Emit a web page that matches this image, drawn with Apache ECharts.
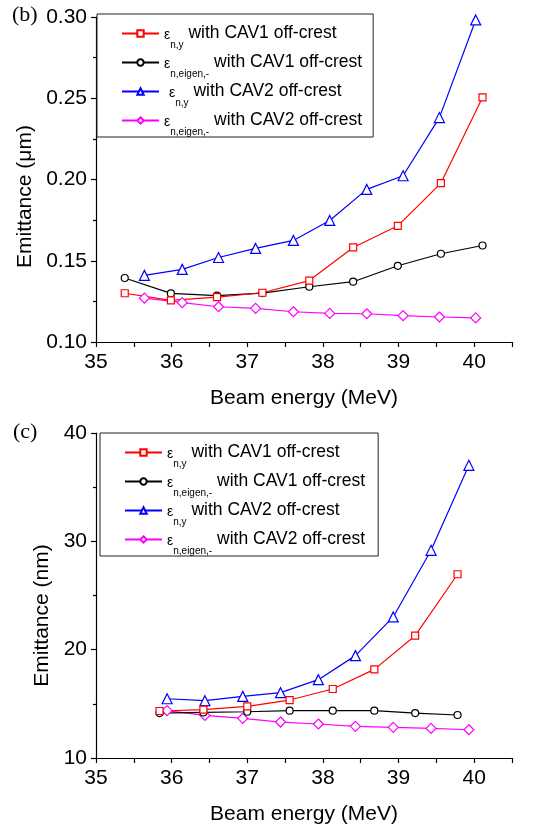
<!DOCTYPE html>
<html>
<head>
<meta charset="utf-8">
<script src="https://cdn.jsdelivr.net/npm/echarts@6/dist/echarts.min.js"></script>
<style>
  html, body { margin: 0; padding: 0; background: #fff; }
  #chart { width: 549px; height: 834px; }
</style>
</head>
<body>
<div id="chart"></div>
<script>
// ---- Panel (b): emittance in µm versus beam energy ----
const energyB1 = [35.38, 35.99, 36.60, 37.20, 37.82, 38.40, 38.99, 39.56, 40.11];
const epsYB1   = [0.130, 0.1256, 0.1276, 0.1303, 0.1378, 0.1582, 0.1715, 0.1978, 0.2505];
const epsEigB1 = [0.1394, 0.1299, 0.1285, 0.1301, 0.1340, 0.1371, 0.1469, 0.1543, 0.1594];
const energyB2 = [35.64, 36.14, 36.62, 37.11, 37.61, 38.09, 38.58, 39.06, 39.54, 40.02];
const epsYB2   = [0.1410, 0.1447, 0.1520, 0.1576, 0.1625, 0.1748, 0.1939, 0.2023, 0.2381, 0.2982];
const epsEigB2 = [0.1270, 0.1242, 0.1217, 0.1207, 0.1186, 0.1176, 0.1174, 0.1162, 0.1154, 0.1148];

// ---- Panel (c): emittance in nm versus beam energy ----
const energyC1 = [35.84, 36.42, 37.00, 37.56, 38.13, 38.68, 39.22, 39.78];
const epsYC1   = [14.34, 14.46, 14.77, 15.35, 16.37, 18.18, 21.29, 26.96];
const epsEigC1 = [14.15, 14.21, 14.27, 14.37, 14.37, 14.37, 14.15, 13.97];
const energyC2 = [35.94, 36.44, 36.94, 37.44, 37.94, 38.43, 38.93, 39.43, 39.93];
const epsYC2   = [15.47, 15.29, 15.69, 16.03, 17.23, 19.45, 23.02, 29.17, 37.02];
const epsEigC2 = [14.37, 13.93, 13.66, 13.32, 13.14, 12.92, 12.83, 12.73, 12.61];

// axis ranges and tick steps
const xRange = [35, 40.5], xStep = 0.5;
const yRangeB = [0.10, 0.30], yStepB = 0.05;
const yRangeC = [10, 40], yStepC = 10;

// legend texts: subscript and trailing description
const legendText = {
  b1: ['n,y', ' with CAV1 off-crest'],
  b2: ['n,eigen,-', ' with CAV1 off-crest'],
  b3: ['n,y', ' with CAV2 off-crest'],
  b4: ['n,eigen,-', ' with CAV2 off-crest'],
  c1: ['n,y', ' with CAV1 off-crest'],
  c2: ['n,eigen,-', ' with CAV1 off-crest'],
  c3: ['n,y', ' with CAV2 off-crest'],
  c4: ['n,eigen,-', ' with CAV2 off-crest']
};

const FONT = 'Liberation Sans';
const RED = '#ff0000', BLACK = '#000000', BLUE = '#0000ff', MAGENTA = '#ff00ff';

function pairs(xs, ys) { return xs.map((x, i) => [x, ys[i]]); }

function makeSeries(name, idx, xs, ys, color, symbol, size) {
  return {
    name: name,
    type: 'line',
    xAxisIndex: idx,
    yAxisIndex: idx,
    data: pairs(xs, ys),
    symbol: symbol,
    symbolSize: size,
    color: color,
    lineStyle: { color: color, width: 1.2 },
    itemStyle: { color: '#ffffff', borderColor: color, borderWidth: 1.2 },
    emphasis: { disabled: true },
    animation: false
  };
}

function xAxisFor(idx) {
  return {
    type: 'value', gridIndex: idx,
    min: xRange[0], max: xRange[1], interval: xStep,
    name: 'Beam energy (MeV)', nameLocation: 'middle', nameGap: 46,
    nameTextStyle: { fontFamily: FONT, fontSize: 21, color: '#000' },
    axisLine: { lineStyle: { color: '#000', width: 1.2 } },
    axisTick: { length: 5, lineStyle: { color: '#000', width: 1.2 } },
    axisLabel: {
      fontFamily: FONT, fontSize: 21, color: '#000', margin: 10,
      formatter: v => (Math.abs(v - Math.round(v)) < 1e-9 ? String(Math.round(v)) : '')
    },
    splitLine: { show: false }
  };
}

function yAxisFor(idx, range, step, title, gap, digits, shift) {
  return {
    type: 'value', gridIndex: idx,
    min: range[0], max: range[1], interval: step,
    name: title, nameLocation: 'middle', nameGap: gap,
    nameTextStyle: { fontFamily: FONT, fontSize: 21, color: '#000', padding: [0, shift, 0, 0] },
    axisLine: { show: true, lineStyle: { color: '#000', width: 1.2 } },
    axisTick: { show: true, length: 5, lineStyle: { color: '#000', width: 1.2 } },
    minorTick: { show: true, splitNumber: 2, length: 3, lineStyle: { color: '#000', width: 1.2 } },
    axisLabel: {
      fontFamily: FONT, fontSize: 21, color: '#000', margin: 9,
      formatter: v => v.toFixed(digits)
    },
    splitLine: { show: false }
  };
}

const richStyle = {
  e: { fontFamily: FONT, fontSize: 14, lineHeight: 14, padding: [4, 0, 0, 0], color: '#000' },
  ew: { fontFamily: FONT, fontSize: 14, lineHeight: 14, padding: [4, 0, 0, 5], color: '#000' },
  s: { fontFamily: FONT, fontSize: 10, lineHeight: 10, padding: [23, 0, 0, 0], color: '#000' },
  t: { fontFamily: FONT, fontSize: 17.5, lineHeight: 20, color: '#000' }
};

function legendFor(names, left, top, rightPad) {
  return {
    data: names,
    orient: 'vertical',
    left: left, top: top,
    itemWidth: 37, itemHeight: 8, itemGap: -4,
    padding: [3, rightPad, 0, 24],
    borderColor: '#222', borderWidth: 1, borderRadius: 0,
    backgroundColor: '#fff',
    selectedMode: false,
    formatter: function (name) {
      const t = legendText[name];
      const eps = name === 'b3' ? '{ew|ε}' : '{e|ε}';
      return eps + '{s|' + t[0] + '}{t|' + t[1] + '}';
    },
    textStyle: { rich: richStyle }
  };
}

const chart = echarts.init(document.getElementById('chart'), null, { renderer: 'canvas' });

chart.setOption({
  backgroundColor: '#ffffff',
  animation: false,
  grid: [
    { left: 96, top: 17, width: 416, height: 325 },
    { left: 96, top: 433, width: 416, height: 325 }
  ],
  xAxis: [xAxisFor(0), xAxisFor(1)],
  yAxis: [
    yAxisFor(0, yRangeB, yStepB, 'Emittance (μm)', 58, 2, 34),
    yAxisFor(1, yRangeC, yStepC, 'Emittance (nm)', 43, 0, 40)
  ],
  legend: [
    legendFor(['b1', 'b2', 'b3', 'b4'], 97, 14, 11),
    legendFor(['c1', 'c2', 'c3', 'c4'], 100, 433, 13)
  ],
  series: [
    makeSeries('b4', 0, energyB2, epsEigB2, MAGENTA, 'diamond', 10),
    makeSeries('b3', 0, energyB2, epsYB2, BLUE, 'triangle', 10),
    makeSeries('b2', 0, energyB1, epsEigB1, BLACK, 'circle', 7),
    makeSeries('b1', 0, energyB1, epsYB1, RED, 'rect', 7),
    makeSeries('c4', 1, energyC2, epsEigC2, MAGENTA, 'diamond', 10),
    makeSeries('c3', 1, energyC2, epsYC2, BLUE, 'triangle', 10),
    makeSeries('c2', 1, energyC1, epsEigC1, BLACK, 'circle', 7),
    makeSeries('c1', 1, energyC1, epsYC1, RED, 'rect', 7)
  ],
  graphic: [
    { type: 'text', left: 12, top: 4, style: { text: '(b)', font: '22px "Liberation Serif"', fill: '#000' } },
    { type: 'text', left: 13, top: 421, style: { text: '(c)', font: '22px "Liberation Serif"', fill: '#000' } }
  ]
});
</script>
</body>
</html>
